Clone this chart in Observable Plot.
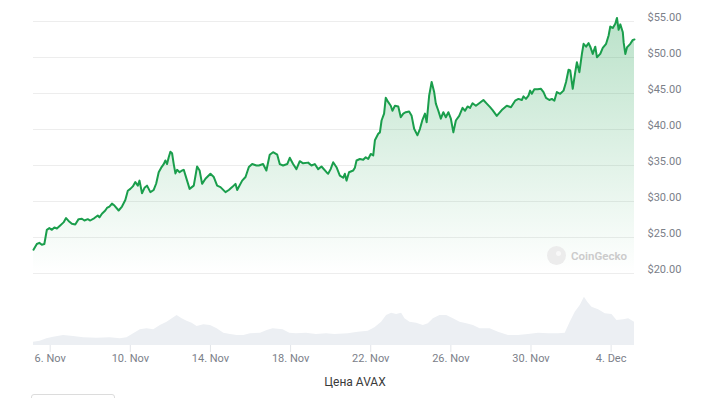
<!DOCTYPE html>
<html>
<head>
<meta charset="utf-8">
<script src="https://cdn.jsdelivr.net/npm/d3@7"></script>
<script src="https://cdn.jsdelivr.net/npm/@observablehq/plot@0.6"></script>
<style>
  html, body { margin: 0; padding: 0; background: #fff; }
  body { width: 701px; height: 398px; overflow: hidden; position: relative; font-family: Roboto, sans-serif; }
  #price, #volume { position: absolute; left: 0; }
  #price { top: 0; }
  #volume { top: 280px; }
  #caption { position: absolute; left: 0; width: 710px; top: 375px; text-align: center; font-size: 12px; color: #3a3a3a; }
  #wm { position: absolute; left: 547px; top: 246px; display: flex; align-items: center; gap: 5px; color: #cbcbcb; font-size: 11.5px; font-weight: 600; }
  #wm .logo { width: 19px; height: 19px; border-radius: 50%; background: #ececec; position: relative; }
  #wm .logo::after { content: ""; position: absolute; left: 9px; top: 5px; width: 5px; height: 5px; border-radius: 50%; background: #f8f8f8; }
  #box { position: absolute; left: 31px; top: 394px; width: 82px; height: 20px; border: 1px solid #dcdcdc; border-radius: 3px; }
</style>
</head>
<body>
<div id="price"></div>
<div id="volume"></div>
<div id="wm"><div class="logo"></div><span>CoinGecko</span></div>
<div id="caption">Цена AVAX</div>
<div id="box"></div>
<script>
// ---- data ----
const startISO = "2024-11-05T00:00:00Z";
// hours since start
const priceHours = [4,8,11,14,17,20,23,26,29,32,36,40,43,46,50,54,58,62,65,69,72,77,81,83,86,90,92,95,98,101,106,110,114,117,120,123,126,129,131,134,137,140,144,148,151,154,157,160,162,164,166,168,170,172,174,176,179,182,184,188,191,196,200,203,206,210,216,220,224,228,234,238,242,246,248,254,258,262,266,271,274,279,283,287,291,296,299,303,308,311,315,319,323,327,333,337,341,345,349,355,357,360,363,367,371,375,377,379,382,387,389,391,395,399,402,405,408,411,413,415,417,419,421,424,426,429,432,434,437,441,444,447,450,454,457,460,464,467,470,473,475,478,481,484,486,489,492,495,498,501,504,507,510,514,518,521,524,527,530,534,538,543,547,551,554,559,565,571,576,581,585,589,591,594,597,599,601,604,608,612,615,618,622,625,628,631,635,639,642,645,647,650,653,655,658,661,663,666,669,671,674,677,679,683,686,690,693,695,698,701,703,705,707,710,711,713,715,719,722,724];
const prices = [23.3,24.1,24.26,24.0,24.1,26.07,26.3,26.07,26.4,26.25,26.67,27.1,27.7,27.3,26.9,26.8,27.55,27.6,27.36,27.55,27.36,27.7,28.05,27.8,28.3,28.75,29.1,29.3,29.7,29.44,28.75,29.3,30.2,31.5,31.75,32.1,32.7,32.2,32.9,31.15,31.9,32.2,31.3,31.6,32.5,34.07,34.7,35.2,35.7,35.2,36.15,36.9,36.7,35.2,33.9,34.4,34.07,34.3,34.4,32.9,31.75,32.2,34.86,34.3,32.45,33.15,33.85,33.4,32.2,32.0,31.3,31.6,32.0,32.45,31.6,32.9,33.4,34.8,35.2,35.0,35.0,35.2,34.3,36.5,36.85,36.5,35.2,35.0,35.2,36.07,35.2,34.5,35.6,35.3,35.4,35.0,35.2,34.5,34.86,34.07,33.85,34.5,35.45,34.76,33.6,33.3,33.85,32.9,34.07,34.3,34.7,35.7,35.9,35.8,36.15,35.9,36.6,36.4,38.5,38.95,39.4,39.6,41.25,42.2,44.4,43.8,43.3,42.6,43.3,43.2,41.7,42.2,42.4,42.5,41.9,40.1,39.2,40.1,41.35,42.2,41.0,44.7,46.6,45.2,43.6,42.6,41.5,42.4,41.7,42.4,41.5,39.6,41.25,41.9,43.0,42.6,43.2,43.0,43.65,43.3,43.65,44.1,43.6,43.1,42.7,41.9,42.7,43.3,43.1,44.0,44.25,44.1,44.6,44.25,44.7,45.4,44.96,45.6,45.6,45.65,45.2,44.4,44.1,44.25,44.0,45.2,44.96,45.4,46.6,48.3,48.2,45.65,47.96,49.35,47.96,50.5,51.9,51.5,51.99,51.5,50.5,51.5,50.04,50.5,51.35,51.9,53.05,54.3,54.1,54.7,55.5,53.85,54.6,53.5,52.1,50.5,51.4,51.9,52.45,52.5];
// volume, $M
const volumeHours = [4,12,20,28,40,52,64,80,96,108,116,124,132,140,148,156,164,172,176,182,188,194,200,208,216,224,232,240,248,256,264,276,284,291,303,311,319,331,343,355,365,381,393,405,413,421,427,433,439,445,449,455,463,471,477,483,491,499,507,515,523,531,539,551,561,573,585,597,609,621,633,641,647,653,659,664,668,673,681,689,697,703,711,717,724];
const volumes = [83,108,168,208,250,225,193,183,193,168,193,293,393,418,393,500,583,693,750,668,608,558,475,518,500,418,308,275,250,250,293,308,375,418,393,308,293,308,275,293,275,293,333,358,443,583,750,808,775,808,668,583,558,500,543,668,750,750,668,583,543,500,418,418,333,250,250,275,308,293,293,308,583,833,1000,1208,1083,958,893,793,775,625,643,668,583];
const yTicks = [20,25,30,35,40,45,50,55];
const xTickDays = ["2024-11-06","2024-11-10","2024-11-14","2024-11-18","2024-11-22","2024-11-26","2024-11-30","2024-12-04"];

// ---- build tables ----
const t0 = new Date(startISO).getTime();
const priceData = priceHours.map((h, i) => ({date: new Date(t0 + h * 3600e3), price: prices[i]}));
const volData = volumeHours.map((h, i) => ({date: new Date(t0 + h * 3600e3), volume: volumes[i]}));
const xTicks = xTickDays.map(d => new Date(d + "T00:00:00Z"));
const xDomain = d3.extent(priceData, d => d.date);

const green = "#1a9e4c";
const labelColor = "#7b8089";
const font = "Roboto, sans-serif";

const price = Plot.plot({
  width: 701, height: 280,
  marginTop: 21, marginBottom: 7, marginLeft: 33, marginRight: 67,
  style: {background: "transparent", fontFamily: font, overflow: "visible"},
  x: {type: "utc", domain: xDomain, axis: null},
  y: {domain: [20, 55]},
  marks: [
    Plot.ruleY(yTicks, {stroke: "#ededed", strokeWidth: 1}),
    Plot.areaY(priceData, {x: "date", y1: 20, y2: "price", fill: "url(#avaxFill)"}),
    Plot.lineY(priceData, {x: "date", y: "price", stroke: green, strokeWidth: 2, strokeLinejoin: "round"}),
    Plot.axisY(yTicks, {anchor: "right", tickSize: 0, tickPadding: 13, dy: -4, fill: labelColor, fontSize: 11,
      tickFormat: d => "$" + d.toFixed(2), label: null})
  ]
});
const ys = price.scale("y");
const defs = d3.select(price).insert("defs", ":first-child");
const grad = defs.append("linearGradient").attr("id", "avaxFill")
  .attr("gradientUnits", "userSpaceOnUse")
  .attr("x1", 0).attr("x2", 0)
  .attr("y1", ys.apply(55.5)).attr("y2", ys.apply(20));
grad.append("stop").attr("offset", "0%").attr("stop-color", green).attr("stop-opacity", 0.3);
grad.append("stop").attr("offset", "100%").attr("stop-color", green).attr("stop-opacity", 0.0);
document.getElementById("price").append(price);

const volume = Plot.plot({
  width: 701, height: 90,
  marginTop: 1, marginBottom: 25, marginLeft: 33, marginRight: 67,
  style: {background: "transparent", fontFamily: font, overflow: "visible"},
  x: {type: "utc", domain: xDomain},
  y: {domain: [0, 1600], axis: null},
  marks: [
    Plot.areaY(volData, {x: "date", y: "volume", fill: "#eceff3"}),
    Plot.axisX(xTicks, {tickSize: 7, tickPadding: 2, stroke: "#e2e5e9", fill: labelColor, fontSize: 11,
      tickFormat: d3.utcFormat("%-d. %b"), label: null})
  ]
});
document.getElementById("volume").append(volume);
</script>
</body>
</html>
